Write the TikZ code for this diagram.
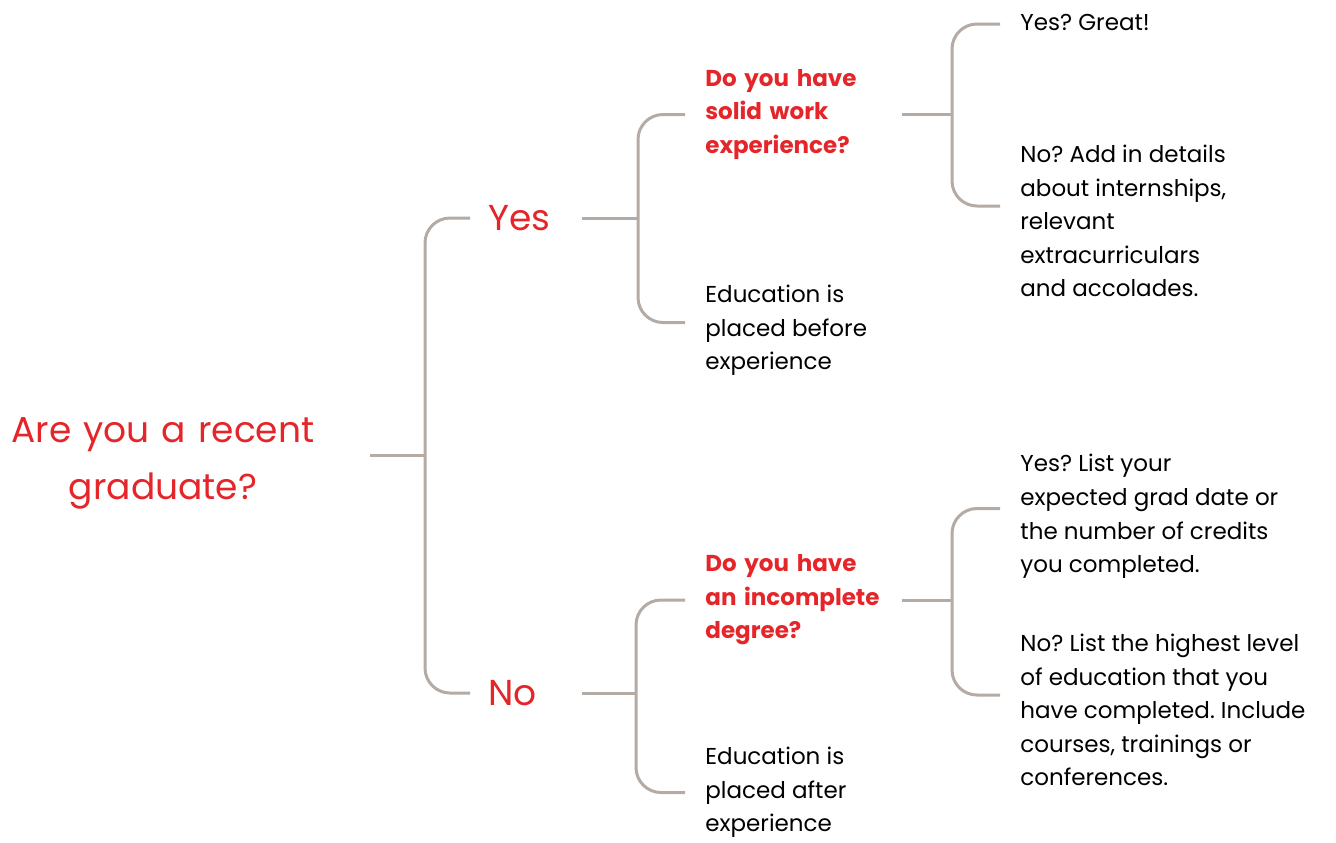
\documentclass[tikz,border=0pt]{standalone}
\usepackage{fontspec}
\setmainfont{Poppins}
\frenchspacing
\hyphenpenalty=10000
\usetikzlibrary{positioning}
\definecolor{qred}{RGB}{228,38,42}
\definecolor{twig}{RGB}{180,171,164}
\tikzset{
	% grey tree lines
	branch/.style={draw=twig, line width=1.5pt, rounded corners=12.5pt},
	% big red labels
	bigq/.style={text=qred, font=\fontsize{18}{28.5}\selectfont, inner sep=0pt},
	answer/.style={bigq, anchor=west, align=left, text width=37.5pt, inner xsep=9pt},
	% red sub questions
	subq/.style={text=qred, font=\bfseries\fontsize{11.5}{16.8}\selectfont, anchor=west,
		align=left, text width=88pt, inner xsep=10pt, inner ysep=0pt},
	% plain black notes
	note/.style={font=\fontsize{11.5}{16.8}\selectfont, anchor=west, align=left,
		inner xsep=10pt, inner ysep=0pt}
}
\begin{document}
\begin{tikzpicture}[x=0.5pt, y=-0.5pt]
	\useasboundingbox (0,0) rectangle (1336,842);
	
	\node[bigq, align=center, text width=207pt] (root) at (163,463) {Are you a recent\\graduate?};
	\node[answer] (yes) at (470,218) {Yes};
	\node[answer] (no) at (470,693) {No};
	
	\node[subq] (solid) at (685,114.5) {Do you have\\solid work\\experience?};
	\node[note] (before) at (685,330.5) {Education is\\placed before\\experience};
	\node[subq] (incomplete) at (685,600) {Do you have\\an incomplete\\degree?};
	\node[note] (after) at (685,792.5) {Education is\\placed after\\experience};
	
	\node[note] (great) at (1000,22) {Yes? Great!};
	\node[note] (addin) at (1000,221) {No? Add in details\\about internships,\\relevant\\extracurriculars\\and accolades.};
	\node[note] (listgrad) at (1000,516.5) {Yes? List your\\expected grad date or\\the number of credits\\you completed.};
	\node[note] (listhigh) at (1000,710) {No? List the highest level\\of education that you\\have completed. Include\\courses, trainings or\\conferences.};
	
	% forks
	\coordinate (f0) at (425,455);
	\coordinate (fyes) at (638,218);
	\coordinate (fno) at (636,693);
	\coordinate (fsolid) at (952,114.5);
	\coordinate (fdeg) at (952,600);
	
	\draw[branch] ([yshift=4pt]root.east) -- (f0);
	\draw[branch] (yes.west) -| (f0) |- (no.west);
	
	\draw[branch] (yes.east) -- (fyes);
	\draw[branch] (solid.west) -| (fyes) |- ([yshift=4pt]before.west);
	\draw[branch] (no.east) -- (fno);
	\draw[branch] (incomplete.west) -| (fno) |- (after.west);
	
	\draw[branch] (solid.east) -- (fsolid);
	\draw[branch] ([yshift=-1pt]great.west) -| (fsolid) |- ([yshift=7.5pt]addin.west);
	\draw[branch] (incomplete.east) -- (fdeg);
	\draw[branch] ([yshift=4pt]listgrad.west) -| (fdeg) |- ([yshift=7.5pt]listhigh.west);
	
\end{tikzpicture}
\end{document}
